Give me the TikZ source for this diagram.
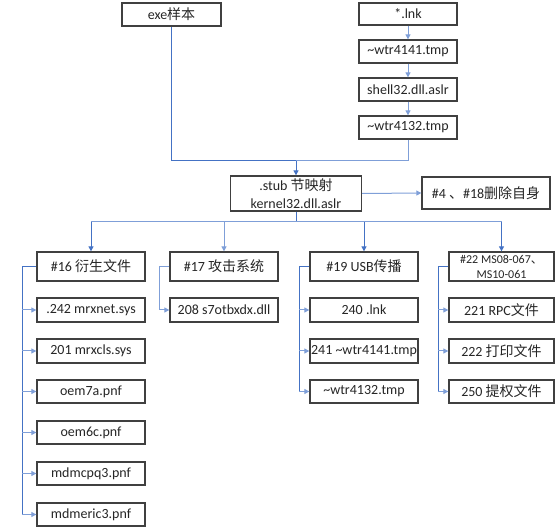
\documentclass[tikz,border=0pt]{standalone}
\usepackage{fontspec}
\setmainfont{Carlito}
\newfontfamily\cjk{Noto Sans CJK SC}
\usetikzlibrary{arrows.meta}
\definecolor{lineblue}{HTML}{4472C4}
\definecolor{lightblue}{HTML}{7F9FD8}
\definecolor{boxgray}{HTML}{404040}
\definecolor{txt}{HTML}{262626}
\begin{document}
\begin{tikzpicture}[x=1pt,y=-1pt,
  box/.style={draw=boxgray,line width=1.3pt,fill=white,inner sep=0pt,text=txt,
    font=\fontsize{14}{18}\selectfont,align=center},
  lnk/.style={draw=lineblue,line width=1pt},
  lnkl/.style={draw=lightblue,line width=1pt},
  arr/.style={draw=lineblue,line width=1pt,-{Triangle[length=5pt,width=5pt]}},
  arrl/.style={draw=lightblue,line width=1pt,-{Triangle[length=5pt,width=5pt]}}]
\useasboundingbox (0,0) rectangle (557,529);
% top
\node[box,minimum width=99pt,minimum height=23pt] (exe) at (171.5,14.5) {exe{\cjk 样本}};
\node[box,minimum width=98pt,minimum height=22pt] (lnkf) at (408,14) {*.lnk};
\node[box,minimum width=98pt,minimum height=23pt] (w41) at (408,51.5) {\textasciitilde wtr4141.tmp};
\node[box,minimum width=98pt,minimum height=23pt] (sh) at (408,89.5) {shell32.dll.aslr};
\node[box,minimum width=98pt,minimum height=23pt] (w32) at (408,127.5) {\textasciitilde wtr4132.tmp};
\node[box,minimum width=131pt,minimum height=35pt] (stub) at (296,193.5) {.stub {\cjk 节映射}\\kernel32.dll.aslr};
\node[box,minimum width=128pt,minimum height=32pt] (del) at (486,193) {\#4 {\cjk 、}\#18{\cjk 删除自身}};
% second level
\node[box,minimum width=108pt,minimum height=29pt] (n16) at (91,266.5) {\#16 {\cjk 衍生文件}};
\node[box,minimum width=108pt,minimum height=29pt] (n17) at (224,266.5) {\#17 {\cjk 攻击系统}};
\node[box,minimum width=108pt,minimum height=29pt] (n19) at (364,266.5) {\#19 USB{\cjk 传播}};
\node[box,minimum width=105pt,minimum height=29pt,font=\fontsize{12}{15}\selectfont] (n22) at (501.5,266.5) {\#22 MS08-067{\cjk 、}\\MS10-061};
% children
\node[box,minimum width=108pt,minimum height=24pt] (a1) at (91,310) {.242 mrxnet.sys};
\node[box,minimum width=108pt,minimum height=24pt] (a2) at (91,351) {201 mrxcls.sys};
\node[box,minimum width=108pt,minimum height=23pt] (a3) at (91,391.5) {oem7a.pnf};
\node[box,minimum width=108pt,minimum height=23pt] (a4) at (91,432.5) {oem6c.pnf};
\node[box,minimum width=108pt,minimum height=23pt] (a5) at (91,473.5) {mdmcpq3.pnf};
\node[box,minimum width=108pt,minimum height=23pt] (a6) at (91,514.5) {mdmeric3.pnf};
\node[box,minimum width=108pt,minimum height=24pt] (b1) at (224,310) {208 s7otbxdx.dll};
\node[box,minimum width=108pt,minimum height=24pt] (c1) at (364,310) {240 .lnk};
\node[box,minimum width=108pt,minimum height=24pt] (c2) at (364,351) {241 \textasciitilde wtr4141.tmp};
\node[box,minimum width=108pt,minimum height=23pt] (c3) at (364,391.5) {\textasciitilde wtr4132.tmp};
\node[box,minimum width=105pt,minimum height=24pt] (d1) at (501.5,310) {221 RPC{\cjk 文件}};
\node[box,minimum width=105pt,minimum height=24pt] (d2) at (501.5,351) {222 {\cjk 打印文件}};
\node[box,minimum width=105pt,minimum height=23pt] (d3) at (501.5,391.5) {250 {\cjk 提权文件}};
% connectors top
\draw[arrl] (lnkf) -- (w41);
\draw[arrl] (w41) -- (sh);
\draw[arrl] (sh) -- (w32);
\coordinate (m) at (296,161);
\draw[lnk] (exe.south) |- (m);
\draw[lnkl] (w32.south) |- (m);
\draw[arr] (m) -- (stub.north);
\draw[arrl] (stub.east) -- (del.west);
% branch
\coordinate (br) at (296,222);
\draw[lnk] (stub.south) -- (br);
\draw[lnkl] (n16.north |- br) -- (n22.north |- br);
\draw[arr] (n16.north |- br) -- (n16.north);
\draw[arrl] (n17.north |- br) -- (n17.north);
\draw[arr] (n19.north |- br) -- (n19.north);
\draw[arr] (n22.north |- br) -- (n22.north);
% group 16
\coordinate (t16) at (22,266.5);
\draw[lnk] (n16.west) -- (t16) -- (t16 |- a6.west);
\foreach \c in {a1,a2,a3,a4,a5,a6} \draw[arrl] (t16 |- \c.west) -- (\c.west);
% group 17
\coordinate (t17) at (159,266.5);
\draw[lnkl] (n17.west) -- (t17) -- (t17 |- b1.west);
\draw[arrl] (t17 |- b1.west) -- (b1.west);
% group 19
\coordinate (t19) at (299,266.5);
\draw[lnk] (n19.west) -- (t19) -- (t19 |- c3.west);
\foreach \c in {c1,c2,c3} \draw[arrl] (t19 |- \c.west) -- (\c.west);
% group 22
\coordinate (t22) at (438,266.5);
\draw[lnk] (n22.west) -- (t22) -- (t22 |- d3.west);
\foreach \c in {d1,d2,d3} \draw[arrl] (t22 |- \c.west) -- (\c.west);
\end{tikzpicture}
\end{document}
